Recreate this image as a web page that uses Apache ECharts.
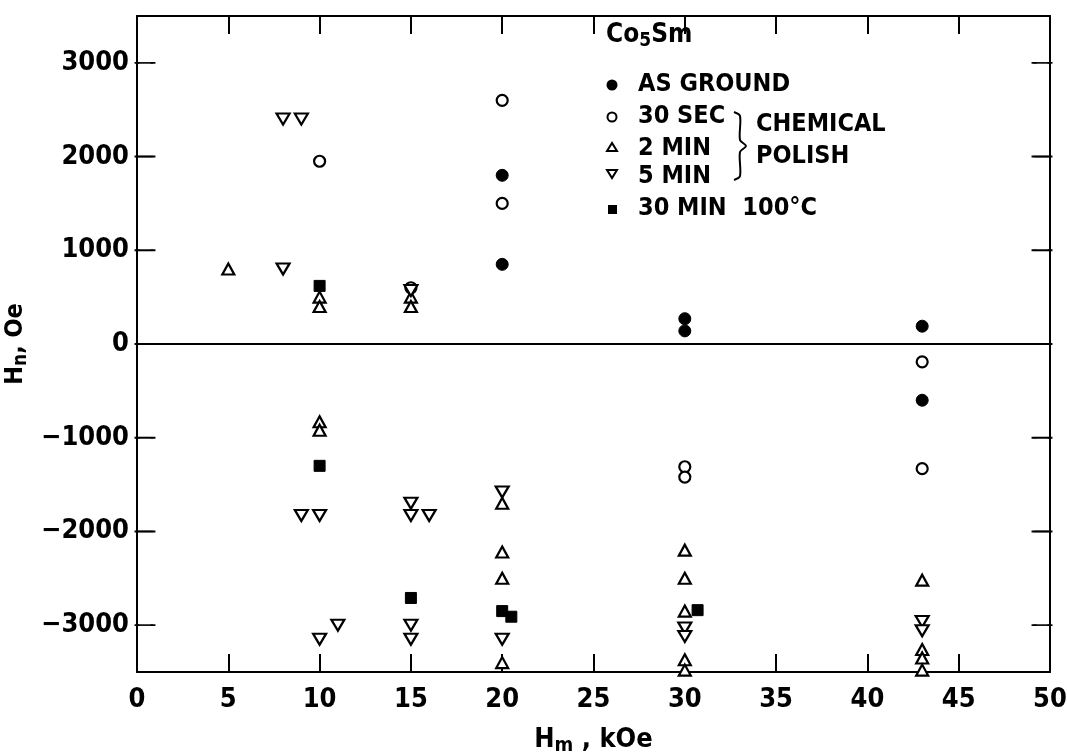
<!DOCTYPE html>
<html><head><meta charset="utf-8">
<script src="https://cdn.jsdelivr.net/npm/echarts@6/dist/echarts.min.js"></script>
<style>html,body{margin:0;padding:0;background:#fff}#c{width:1067px;height:755px}</style>
</head><body><div id="c"></div>
<script>
// Hm (kOe), Hn (Oe)
var asGround = [[20,1800],[20,850],[30,270],[30,140],[43,190],[43,-600]];
var sec30 = [[10,1950],[20,2600],[20,1500],[15,600],[30,-1310],[30,-1420],[43,-190],[43,-1330]];
var min2 = [[5,800],[10,500],[10,400],[15,500],[15,400],[10,-830],[10,-920],[20,-1700],[20,-2220],[20,-2500],[20,-3400],[30,-2200],[30,-2500],[30,-2850],[30,-3370],[30,-3480],[43,-2520],[43,-3260],[43,-3350],[43,-3480]];
var min5 = [[8,2400],[9,2400],[8,800],[15,570],[9,-1830],[10,-1830],[15,-1700],[15,-1830],[16,-1830],[20,-1580],[10,-3150],[11,-3000],[15,-3000],[15,-3150],[20,-3150],[30,-3030],[30,-3120],[43,-2960],[43,-3060]];
var min30 = [[10,620],[10,-1300],[15,-2710],[20,-2850],[20.5,-2910],[30.7,-2840]];
var xTicks = [0,5,10,15,20,25,30,35,40,45,50];
var yTicks = [-3000,-2000,-1000,0,1000,2000,3000];

var FONT = 'DejaVu Sans Condensed, Liberation Sans Narrow, sans-serif';
var chart = echarts.init(document.getElementById('c'));
var lbl = {color:'#000', fontFamily:FONT, fontSize:27, fontWeight:'bold'};
function hollow(){return {color:'#fff', borderColor:'#000', borderWidth:2.2, opacity:1};}
var solid = {color:'#000', borderColor:'#000', borderWidth:1, opacity:1};
var tickMark = {color:'#000', borderColor:'#000', borderWidth:1.5, opacity:1};
var F = 'bold 25px '+FONT;
var option = {
  animation:false,
  backgroundColor:'#fff',
  grid:{left:137, right:17, top:16, bottom:83, containLabel:false, outerBoundsMode:'none'},
  xAxis:[{
    type:'value', min:0, max:50, interval:5,
    axisLine:{onZero:false, lineStyle:{color:'#000', width:2}},
    axisTick:{inside:true, length:18, lineStyle:{color:'#000', width:2}},
    axisLabel:Object.assign({margin:14}, lbl),
    splitLine:{show:false},
    name:'{a|H}{s|m}{a| , kOe}', nameLocation:'middle', nameGap:52,
    nameTextStyle:{rich:{a:{fontFamily:FONT, fontSize:27, fontWeight:'bold', color:'#000'}, s:{fontFamily:FONT, fontSize:20, fontWeight:'bold', color:'#000', padding:[12,0,0,0]}}}
  },{
    type:'value', position:'top', min:0, max:50, interval:5,
    axisLine:{onZero:false, lineStyle:{color:'#000', width:2}},
    axisTick:{inside:true, length:18, lineStyle:{color:'#000', width:2}},
    axisLabel:{show:false}, splitLine:{show:false}
  }],
  yAxis:[{
    type:'value', min:-3500, max:3500, interval:500,
    axisLine:{onZero:false, lineStyle:{color:'#000', width:2}},
    axisTick:{show:false},
    axisLabel:Object.assign({margin:8, formatter:function(v){return yTicks.indexOf(v)>=0?String(v).replace('-','\u2212'):'';}}, lbl),
    splitLine:{show:false},
    name:'{a|H}{s|n}{a|, Oe}', nameLocation:'middle', nameGap:84,
    nameTextStyle:{rich:{a:{fontFamily:FONT, fontSize:25, fontWeight:'bold', color:'#000'}, s:{fontFamily:FONT, fontSize:19, fontWeight:'bold', color:'#000', padding:[10,0,0,0]}}}
  },{
    type:'value', position:'right', min:-3500, max:3500, interval:500,
    axisLine:{onZero:false, lineStyle:{color:'#000', width:2}},
    axisTick:{show:false},
    axisLabel:{show:false}, splitLine:{show:false}
  }],
  series:[
    {type:'scatter', name:'AS GROUND', data:asGround, symbol:'circle', symbolSize:12, itemStyle:solid, z:5,
     markLine:{silent:true, symbol:'none', label:{show:false}, lineStyle:{color:'#000', width:1.8, type:'solid', opacity:1}, data:[{yAxis:0}]}},
    {type:'scatter', name:'30 SEC', data:sec30, symbol:'circle', symbolSize:11, itemStyle:hollow(), z:4},
    {type:'scatter', name:'2 MIN', data:min2, symbol:'triangle', symbolSize:[12,11], itemStyle:hollow(), z:4},
    {type:'scatter', name:'5 MIN', data:min5, symbol:'triangle', symbolRotate:180, symbolSize:[13,11], itemStyle:hollow(), z:4},
    {type:'scatter', name:'30 MIN 100°C', data:min30, symbol:'rect', symbolSize:11, itemStyle:solid, z:5},
    {type:'scatter', data:yTicks.map(function(v){return [0,v];}), symbol:'rect', symbolSize:[16,1.5], symbolOffset:[8,0], itemStyle:tickMark, silent:true, z:3},
    {type:'scatter', data:yTicks.map(function(v){return [50,v];}), symbol:'rect', symbolSize:[16,1.5], symbolOffset:[-8,0], itemStyle:tickMark, silent:true, z:3}
  ],
  graphic:[
    {type:'text', x:606, y:20, style:{text:'{a|Co}{s|5}{a|Sm}', rich:{a:{font:'bold 26px '+FONT, fill:'#000'}, s:{font:'bold 19px '+FONT, fill:'#000', padding:[12,0,0,0]}}}},
    {type:'circle', shape:{cx:612, cy:85, r:5.5}, style:{fill:'#000'}},
    {type:'circle', shape:{cx:612, cy:117, r:4.5}, style:{fill:'#fff', stroke:'#000', lineWidth:2}},
    {type:'polygon', shape:{points:[[612,143],[607,151],[617,151]]}, style:{fill:'#fff', stroke:'#000', lineWidth:2}},
    {type:'polygon', shape:{points:[[607,170],[617,170],[612,178]]}, style:{fill:'#fff', stroke:'#000', lineWidth:2}},
    {type:'rect', shape:{x:608, y:205, width:9, height:9}, style:{fill:'#000'}},
    {type:'text', x:638, y:72, style:{text:'AS GROUND', font:F, fill:'#000'}},
    {type:'text', x:638, y:104, style:{text:'30 SEC', font:F, fill:'#000'}},
    {type:'text', x:638, y:136, style:{text:'2 MIN', font:F, fill:'#000'}},
    {type:'text', x:638, y:164, style:{text:'5 MIN', font:F, fill:'#000'}},
    {type:'text', x:638, y:196, style:{text:'30 MIN  100°C', font:F, fill:'#000'}},
    {type:'polyline', shape:{points:[[734,112],[740,116],[740,140],[746,146],[740,152],[740,176],[734,180]], smooth:0.3}, style:{fill:'none', stroke:'#000', lineWidth:2}},
    {type:'text', x:756, y:112, style:{text:'CHEMICAL', font:F, fill:'#000'}},
    {type:'text', x:756, y:144, style:{text:'POLISH', font:F, fill:'#000'}}
  ]
};
chart.setOption(option);
</script>
</body></html>
